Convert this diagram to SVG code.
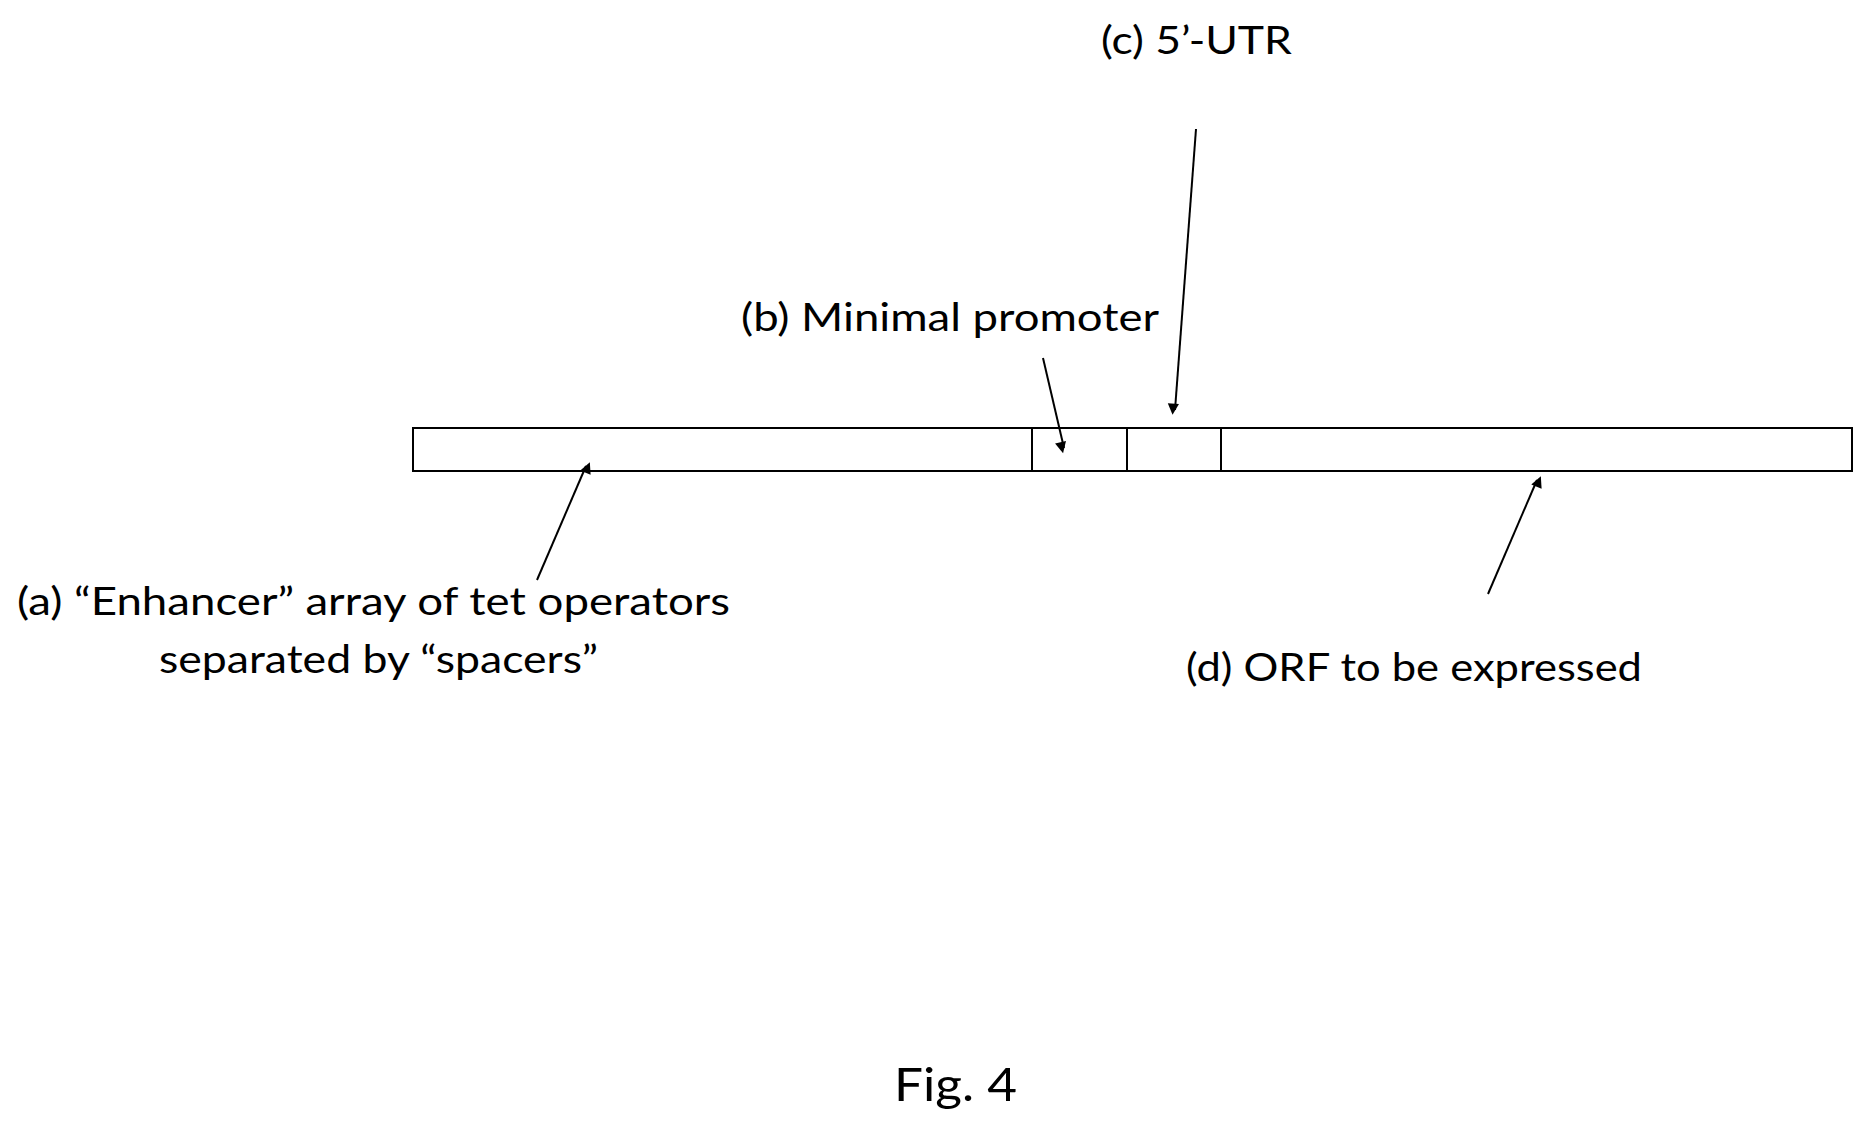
<svg xmlns="http://www.w3.org/2000/svg" width="1864" height="1125" viewBox="0 0 1864 1125">
<style>
text{font-family:Lato,"Open Sans","Liberation Sans",sans-serif;font-size:38px;fill:#000}
.b{fill:#fff;stroke:#000;stroke-width:2}
.c{stroke:#000;stroke-width:2;fill:none;marker-end:url(#ah)}
</style>
<defs><marker id="ah" viewBox="0 0 10 10" refX="9" refY="5" markerWidth="7" markerHeight="7" orient="auto" markerUnits="userSpaceOnUse" style="overflow:visible"><path d="M0,0 L10,5 L0,10 z" transform="scale(1.6)" fill="#000"/></marker></defs>
<rect width="1864" height="1125" fill="#fff"/>
<g id="construct">
<rect class="b" x="413" y="428" width="1439" height="43"/>
<line x1="1032" y1="428" x2="1032" y2="471" stroke="#000" stroke-width="2"/>
<line x1="1127" y1="428" x2="1127" y2="471" stroke="#000" stroke-width="2"/>
<line x1="1221" y1="428" x2="1221" y2="471" stroke="#000" stroke-width="2"/>
</g>
<g id="connectors">
<line class="c" x1="537" y1="580" x2="586" y2="466"/>
<line class="c" x1="1043" y1="358" x2="1064" y2="448"/>
<line class="c" x1="1196" y1="129" x2="1175" y2="410"/>
<line class="c" x1="1488" y1="594" x2="1537" y2="480"/>
</g>
<g id="label-c"><text x="1101" y="54" textLength="191" lengthAdjust="spacingAndGlyphs">(c) 5’-UTR</text></g>
<g id="label-b"><text x="741" y="331" textLength="418" lengthAdjust="spacingAndGlyphs">(b) Minimal promoter</text></g>
<g id="label-a"><text x="17" y="615" textLength="713" lengthAdjust="spacingAndGlyphs">(a)  “Enhancer” array of tet operators</text>
<text x="159" y="673" textLength="439" lengthAdjust="spacingAndGlyphs">separated by “spacers”</text></g>
<g id="label-d"><text x="1186" y="681" textLength="456" lengthAdjust="spacingAndGlyphs">(d) ORF to be expressed</text></g>
<g id="caption"><text x="894" y="1101" font-size="46" style="font-size:46px" textLength="123" lengthAdjust="spacingAndGlyphs">Fig. 4</text></g>
</svg>
